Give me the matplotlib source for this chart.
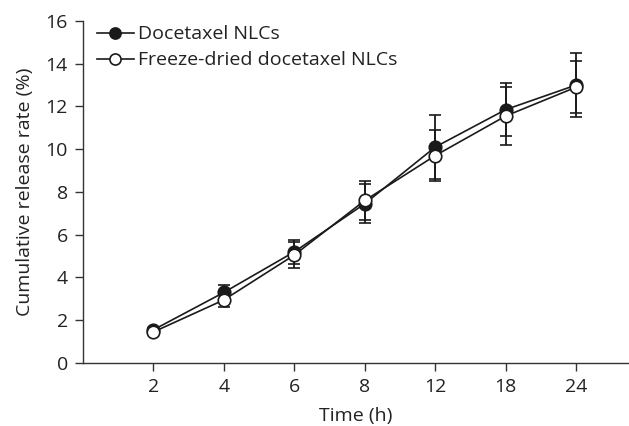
import matplotlib
matplotlib.use("Agg")
from matplotlib import pyplot as plt

times = ["2", "4", "6", "8", "12", "18", "24"]
nlc_mean = [1.55, 3.3, 5.2, 7.45, 10.1, 11.85, 13.0]
nlc_err = [0.1, 0.35, 0.55, 0.9, 1.5, 1.25, 1.5]
fd_mean = [1.45, 2.95, 5.05, 7.6, 9.7, 11.55, 12.9]
fd_err = [0.1, 0.35, 0.6, 0.93, 1.2, 1.35, 1.2]

plt.rcParams["font.family"] = ["Open Sans", "DejaVu Sans"]
plt.rcParams["font.size"] = 14

fig = plt.figure(figsize = (6.29, 4.26), dpi = 100)
ax = fig.add_axes([0.132, 0.148, 0.868, 0.803])

x = list(range(1, len(times) + 1))
c1 = ax.errorbar(x, nlc_mean, yerr = nlc_err, color = "#1a1a1a", lw = 1.2, marker = "o", ms = 9,
	mfc = "#1a1a1a", mec = "#1a1a1a", mew = 1.2, capsize = 4.5, elinewidth = 1.3, capthick = 1.3,
	label = "Docetaxel NLCs", zorder = 3)
c2 = ax.errorbar(x, fd_mean, yerr = fd_err, color = "#1a1a1a", lw = 1.2, marker = "o", ms = 9,
	mfc = "white", mec = "#1a1a1a", mew = 1.2, capsize = 4.5, elinewidth = 1.3, capthick = 1.3,
	label = "Freeze-dried docetaxel NLCs", zorder = 4)

ax.set_xlim(0, 7.75)
ax.set_ylim(0, 16)
ax.set_xticks(x)
ax.set_xticklabels(times)
ax.set_yticks(range(0, 17, 2))
for s in ["top", "right"]:
	ax.spines[s].set_visible(False)
for s in ["left", "bottom"]:
	ax.spines[s].set_color("#333333")
	ax.spines[s].set_linewidth(1.0)
ax.tick_params(direction = "out", length = 6, width = 1.0, pad = 5, color = "#333333", labelcolor = "#222222", labelsize = 14)
ax.set_xlabel("Time (h)", color = "#222222", fontsize = 14, labelpad = 8)
ax.set_ylabel("Cumulative release rate (%)", color = "#222222", fontsize = 14, labelpad = 8)

leg = ax.legend(handles = [c1[0], c2[0]], labels = ["Docetaxel NLCs", "Freeze-dried docetaxel NLCs"],
	loc = "upper left", bbox_to_anchor = (0.025, 0.987), frameon = False, handlelength = 1.9,
	handletextpad = 0.25, borderpad = 0, borderaxespad = 0, labelspacing = 0.42, fontsize = 14)
for t in leg.get_texts():
	t.set_color("#222222")
for h in leg.legend_handles:
	h.set_markersize(8)

fig.savefig("out.png", dpi = 100)
